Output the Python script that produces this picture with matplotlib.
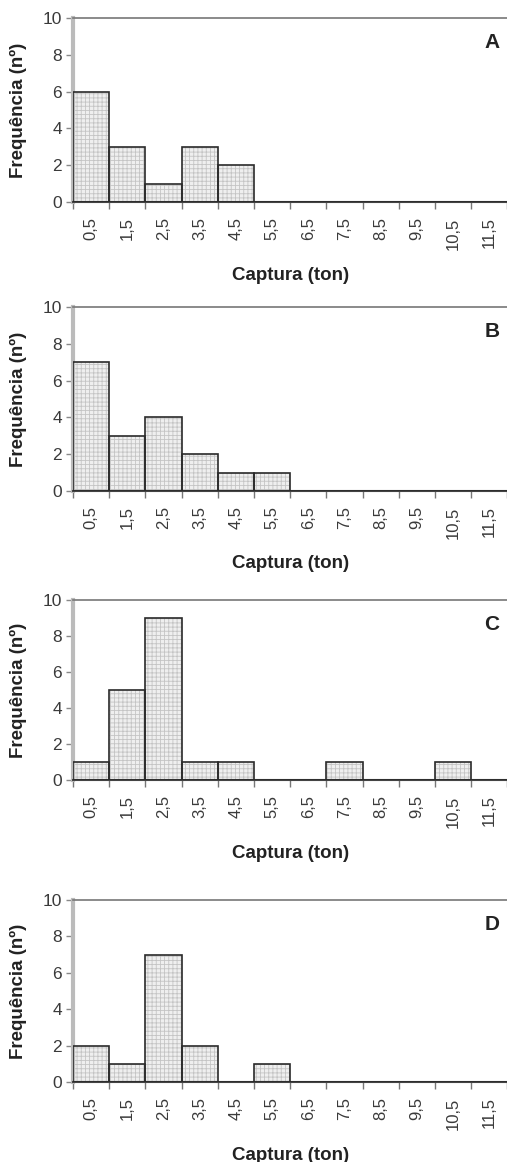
import numpy as np
import matplotlib
matplotlib.use("Agg")
import matplotlib.pyplot as plt

plt.rcParams['font.family'] = ['Liberation Sans', 'DejaVu Sans']
plt.rcParams['hatch.linewidth'] = 0.6

categories = ['0,5', '1,5', '2,5', '3,5', '4,5', '5,5', '6,5', '7,5', '8,5', '9,5', '10,5', '11,5']
freq_A = [6, 3, 1, 3, 2, 0, 0, 0, 0, 0, 0, 0]
freq_B = [7, 3, 4, 2, 1, 1, 0, 0, 0, 0, 0, 0]
freq_C = [1, 5, 9, 1, 1, 0, 0, 1, 0, 0, 1, 0]
freq_D = [2, 1, 7, 2, 0, 1, 0, 0, 0, 0, 0, 0]
panel_letters = ['A', 'B', 'C', 'D']
y_ticks = [0, 2, 4, 6, 8, 10]

W, H = 507, 1162
fig = plt.figure(figsize=(W / 100, H / 100), dpi=100)

# pixel extents (top, bottom) of each plot area
extents = [(18, 202), (307, 491), (600, 780), (900, 1082)]
left_px = 73
cat_px = 36.2
n = len(categories)

for vals, letter, (top, bot) in zip([freq_A, freq_B, freq_C, freq_D], panel_letters, extents):
    h = bot - top
    ax = fig.add_axes([left_px / W, 1 - bot / H, n * cat_px / W, h / H])
    x = np.arange(n) + 0.5
    ax.bar(x, vals, width=1.0, facecolor='#efefef', edgecolor='#c4c4c4',
           hatch='++++', linewidth=0, zorder=2)
    ax.bar(x, vals, width=1.0, facecolor='none', edgecolor='#2a2a2a',
           linewidth=1.2, zorder=3)
    ax.set_xlim(0, n)
    ax.set_ylim(0, 10)
    ax.set_yticks(y_ticks)
    ax.tick_params(axis='y', labelsize=12.5, length=5, width=1, color='#888888',
                   labelcolor='#3a3a3a', pad=3)
    ax.set_xticks(np.arange(n + 1))
    ax.set_xticklabels([])
    ax.tick_params(axis='x', which='major', length=5, width=1, color='#777777')
    ax.set_xticks(x, minor=True)
    ax.set_xticklabels(categories, minor=True, rotation=90, fontsize=12,
                       color='#3a3a3a', va='top', ha='center')
    ax.tick_params(axis='x', which='minor', length=0, pad=11)

    ax.spines['right'].set_visible(False)
    ax.spines['top'].set_color('#777777')
    ax.spines['top'].set_linewidth(1.2)
    ax.spines['left'].set_color('#bbbbbb')
    ax.spines['left'].set_linewidth(3)
    ax.spines['bottom'].set_color('#444444')
    ax.spines['bottom'].set_linewidth(1.5)

    ax.set_xlabel('Captura (ton)', fontsize=13.5, fontweight='bold', color='#222222',
                  va='center')
    ax.xaxis.set_label_coords(0.5, -(275 - 202) / h)
    ax.set_ylabel('Frequência (nº)', fontsize=13.5, fontweight='bold', color='#222222',
                  va='center', ha='center')
    ax.yaxis.set_label_coords((18 - left_px) / (n * cat_px), 0.5)

    ax.text((492 - left_px) / (n * cat_px), (h - 25) / h, letter, transform=ax.transAxes,
            fontsize=15, fontweight='bold', ha='center', va='center', color='#222222')

fig.savefig('out.png', dpi=100)
